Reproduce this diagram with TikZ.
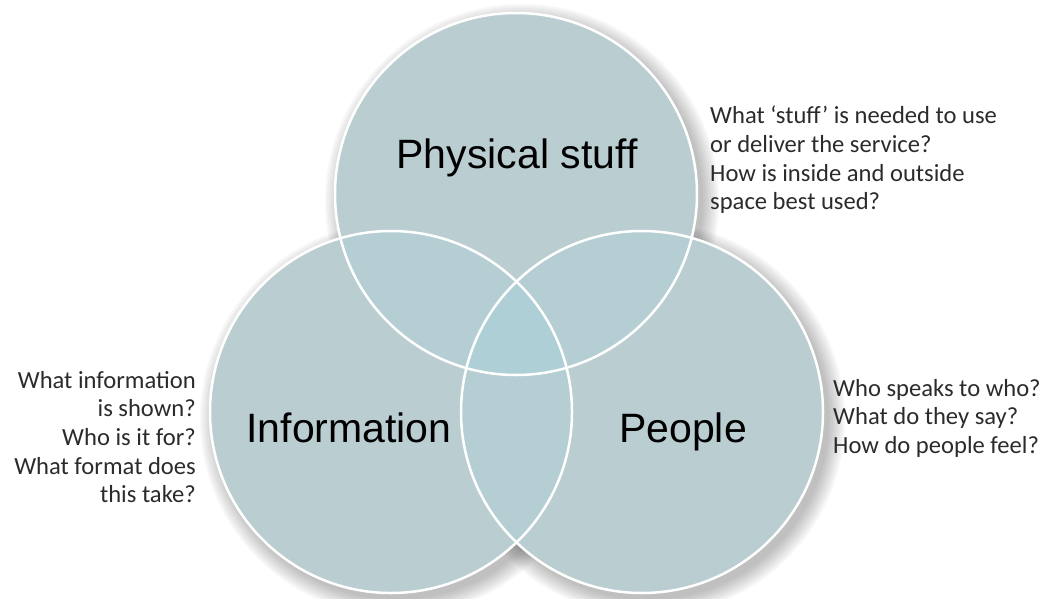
\documentclass[tikz,border=0pt]{standalone}
\usepackage{fontspec}
\setmainfont{Liberation Sans}
\newfontfamily\notefont{Carlito}
\usetikzlibrary{positioning}
\definecolor{vennfill}{HTML}{BACDD1}
\definecolor{vennlap}{HTML}{B4CED3}
\definecolor{venncore}{HTML}{ADCFD5}
\definecolor{notegray}{HTML}{2B2B2B}

\begin{document}
\begin{tikzpicture}[x=1pt,y=-1pt,
		venn/.style ={circle, fill=vennfill, minimum size=362pt, inner sep=0pt},
		rim/.style ={draw=white, line width=2.5pt},
		glow/.style ={fill=black, opacity=0.03},
		title/.style ={font=\fontsize{41}{48}\selectfont, text=black},
		note/.style ={font=\notefont\fontsize{24.6}{28.6}\selectfont, text=notegray, inner sep=0pt}]
	\useasboundingbox (0,0) rectangle (1055,598);
	% soft shadow behind the circles
	\foreach \r in {181,183,...,197} {
		\fill[glow] (522,201) circle[radius=\r pt];
		\fill[glow] (397,419) circle[radius=\r pt];
		\fill[glow] (648,419) circle[radius=\r pt];
	}
	% the three sets
	\node[venn] (phys) at (516,194) {};
	\node[venn] (info) at (391,412) {};
	\node[venn] (ppl) at (642,412) {};
	% overlaps
	\begin{scope}
		\clip (phys.center) circle[radius=181pt];
		\fill[vennlap] (info.center) circle[radius=181pt];
		\fill[vennlap] (ppl.center) circle[radius=181pt];
	\end{scope}
	\begin{scope}
		\clip (info.center) circle[radius=181pt];
		\fill[vennlap] (ppl.center) circle[radius=181pt];
	\end{scope}
	\begin{scope}
		\clip (phys.center) circle[radius=181pt];
		\clip (info.center) circle[radius=181pt];
		\fill[venncore] (ppl.center) circle[radius=181pt];
	\end{scope}
	% white outlines
	\draw[rim] (phys.center) circle[radius=181pt];
	\draw[rim] (info.center) circle[radius=181pt];
	\draw[rim] (ppl.center) circle[radius=181pt];
	% set names
	\node[title, anchor=base] (physLabel) at (517,168) {Physical stuff};
	\node[title, anchor=base] (infoLabel) at (349,442) {Information};
	\node[title, anchor=base] (pplLabel) at (683,442) {People};
	% questions
	\node[note, anchor=north west, align=left] (physNote) at (710,106)
		{What ‘stuff’ is needed to use\\or deliver the service?\\How is inside and outside\\space best used?};
	\node[note, anchor=north east, align=right] (infoNote) at (196,371)
		{What information\\is shown?\\Who is it for?\\What format does\\this take?};
	\node[note, anchor=north west, align=left] (pplNote) at (833,379)
		{Who speaks to who?\\What do they say?\\How do people feel?};
\end{tikzpicture}
\end{document}
